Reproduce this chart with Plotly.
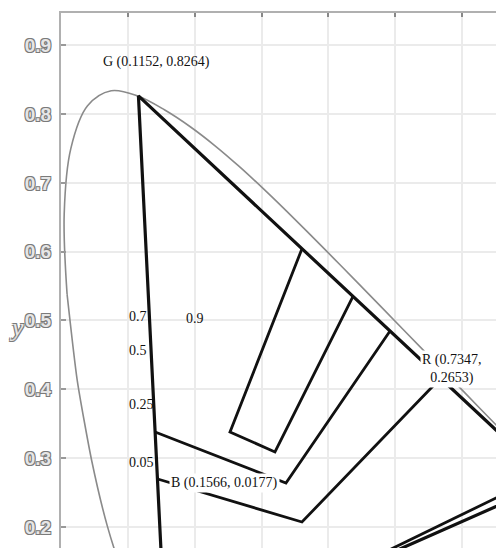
import plotly.graph_objects as go

# CIE 1931 spectral locus (x, y) used in the picture: blue-cyan part, then green-red part
locus_lo_x = [0.1440, 0.1355, 0.1241, 0.1096, 0.0913, 0.0687, 0.0454, 0.0235, 0.0082]
locus_lo_y = [0.0297, 0.0399, 0.0578, 0.0868, 0.1327, 0.2007, 0.2950, 0.4127, 0.5384]
locus_hi_x = [0.0082, 0.0039, 0.0139, 0.0389, 0.0743, 0.1142, 0.1547, 0.1929, 0.2296, 0.2658,
              0.3016, 0.3373, 0.3731, 0.4087, 0.4441, 0.4788, 0.5125, 0.5448, 0.5752, 0.6029,
              0.6270, 0.6482, 0.6658, 0.6915, 0.7079, 0.7347]
locus_hi_y = [0.5384, 0.6548, 0.7502, 0.8120, 0.8338, 0.8262, 0.8059, 0.7816, 0.7543, 0.7243,
              0.6923, 0.6589, 0.6245, 0.5896, 0.5547, 0.5202, 0.4866, 0.4544, 0.4242, 0.3965,
              0.3725, 0.3514, 0.3340, 0.3083, 0.2920, 0.2653]

# purple boundary (visible part)
purple_x = [0.7347, 0.5117, 0.4200]
purple_y = [0.2653, 0.1693, 0.1300]

# gamut triangle G, R, B
tri_x = [0.1566, 0.1152, 0.7347, 0.1566]
tri_y = [0.0177, 0.8264, 0.2653, 0.0177]

# inner contours
c1_x = [0.3604, 0.2525, 0.3199, 0.4369]
c1_y = [0.6043, 0.3379, 0.3089, 0.5350]
c2_x = [0.1402, 0.3364, 0.4924]
c2_y = [0.3379, 0.2638, 0.4848]
c3_x = [0.1440, 0.3604, 0.5670]
c3_y = [0.2696, 0.2071, 0.4150]
c4_x = [0.7000, 0.4500]
c4_y = [0.2650, 0.1470]

# text labels
lab_text = ["0.7", "0.9", "0.5", "0.25", "0.05"]
lab_x = [0.1145, 0.2007, 0.1145, 0.1198, 0.1198]
lab_y = [0.5065, 0.5022, 0.4557, 0.3772, 0.2943]

y_ticks = [0.2, 0.3, 0.4, 0.5, 0.6, 0.7, 0.8, 0.9]
x_ticks = [0.0, 0.1, 0.2, 0.3, 0.4, 0.5, 0.6]

fig = go.Figure()
fig.add_trace(go.Scatter(x=locus_lo_x, y=locus_lo_y, mode="lines",
                         line=dict(color="#8a8a8a", width=1.6, shape="spline", smoothing=0.6),
                         hoverinfo="skip"))
fig.add_trace(go.Scatter(x=locus_hi_x, y=locus_hi_y, mode="lines",
                         line=dict(color="#8a8a8a", width=1.6, shape="spline", smoothing=1.0),
                         hoverinfo="skip"))
fig.add_trace(go.Scatter(x=purple_x, y=purple_y, mode="lines",
                         line=dict(color="#8a8a8a", width=1.6), hoverinfo="skip"))
for xs, ys, w in [(tri_x, tri_y, 3.2), (c1_x, c1_y, 2.8), (c2_x, c2_y, 2.8),
                  (c3_x, c3_y, 2.8), (c4_x, c4_y, 2.8)]:
    fig.add_trace(go.Scatter(x=xs, y=ys, mode="lines",
                             line=dict(color="#111111", width=w), hoverinfo="skip"))

serif = "Liberation Serif, Times New Roman, serif"
for t, x, y in zip(lab_text, lab_x, lab_y):
    fig.add_annotation(x=x, y=y, text=t, showarrow=False,
                       font=dict(family=serif, size=14, color="#111"))

fig.add_annotation(x=0.1430, y=0.8757, text="G (0.1152, 0.8264)", showarrow=False,
                   font=dict(family=serif, size=14, color="#111"))
fig.add_annotation(x=0.2435, y=0.2638, text="B (0.1566, 0.0177)", showarrow=False,
                   bgcolor="white", borderpad=1,
                   font=dict(family=serif, size=14, color="#111"))
fig.add_annotation(x=0.5853, y=0.4295, text="R (0.7347,<br>0.2653)", showarrow=False,
                   bgcolor="white", borderpad=1,
                   font=dict(family=serif, size=14, color="#111"))

outline = "-1px -1px 0 #7a7a7a, 1px -1px 0 #7a7a7a, -1px 1px 0 #7a7a7a, 1px 1px 0 #7a7a7a"
fig.add_annotation(xref="paper", yref="paper", x=-0.081, y=0.412, xanchor="right",
                   text="<i>y</i>", showarrow=False,
                   font=dict(family=serif, size=26, color="#e6e6e6", shadow=outline))

fig.update_layout(
    width=496, height=548,
    margin=dict(l=61, r=0, t=13, b=0),
    paper_bgcolor="white", plot_bgcolor="white",
    showlegend=False,
    xaxis=dict(range=[-0.0009, 0.6513], side="top", tickvals=x_ticks,
               showticklabels=False, ticks="inside", ticklen=4, tickwidth=2,
               tickcolor="#888", showline=True, linecolor="#b0b0b0", linewidth=2,
               showgrid=True, gridcolor="#ebebeb", gridwidth=1.5, zeroline=False),
    yaxis=dict(range=[0.1693, 0.9469], tickvals=y_ticks, tickformat=".1f",
               ticks="inside", ticklen=5, tickwidth=2, tickcolor="#999",
               showline=True, linecolor="#b0b0b0", linewidth=2,
               showgrid=True, gridcolor="#ebebeb", gridwidth=1.5, zeroline=False,
               ticklabelstandoff=4,
               tickfont=dict(family="Liberation Sans, Arial, sans-serif", size=19,
                             weight="bold", color="#e6e6e6", shadow=outline)),
)

fig.write_html("out.html")
